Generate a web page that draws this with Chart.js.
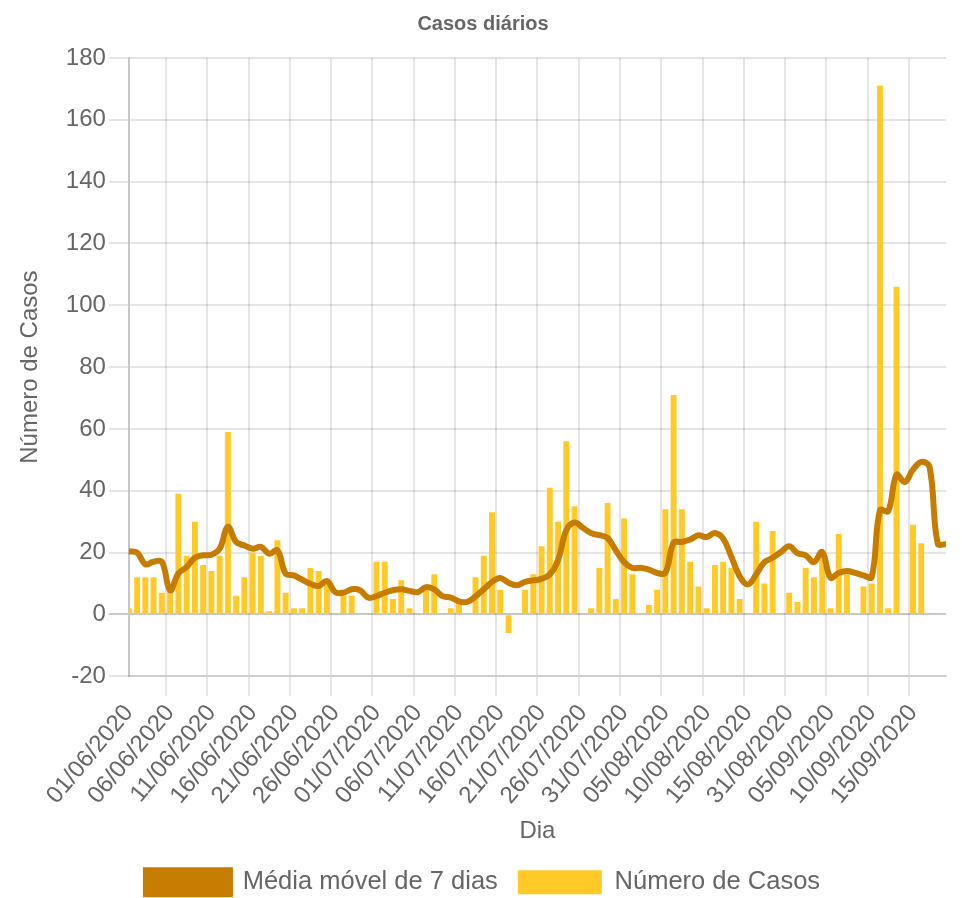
<!DOCTYPE html>
<html>
<head>
<meta charset="utf-8">
<title>Casos diários</title>
<script src="https://cdn.jsdelivr.net/npm/chart.js@4.4.0/dist/chart.umd.min.js"></script>
<style>
html, body { margin: 0; padding: 0; background: #fff; }
#wrap { width: 962px; height: 898px; }
</style>
</head>
<body>
<div id="wrap"><canvas id="casosChart"></canvas></div>
<script>
//Days on the x axis (one label per day, data jumps from mid August to 31/08)
var dias = [
    '01/06/2020','02/06/2020','03/06/2020','04/06/2020','05/06/2020','06/06/2020','07/06/2020','08/06/2020','09/06/2020','10/06/2020',
    '11/06/2020','12/06/2020','13/06/2020','14/06/2020','15/06/2020','16/06/2020','17/06/2020','18/06/2020','19/06/2020','20/06/2020',
    '21/06/2020','22/06/2020','23/06/2020','24/06/2020','25/06/2020','26/06/2020','27/06/2020','28/06/2020','29/06/2020','30/06/2020',
    '01/07/2020','02/07/2020','03/07/2020','04/07/2020','05/07/2020','06/07/2020','07/07/2020','08/07/2020','09/07/2020','10/07/2020',
    '11/07/2020','12/07/2020','13/07/2020','14/07/2020','15/07/2020','16/07/2020','17/07/2020','18/07/2020','19/07/2020','20/07/2020',
    '21/07/2020','22/07/2020','23/07/2020','24/07/2020','25/07/2020','26/07/2020','27/07/2020','28/07/2020','29/07/2020','30/07/2020',
    '31/07/2020','01/08/2020','02/08/2020','03/08/2020','04/08/2020','05/08/2020','06/08/2020','07/08/2020','08/08/2020','09/08/2020',
    '10/08/2020','11/08/2020','12/08/2020','13/08/2020','14/08/2020','15/08/2020','16/08/2020','17/08/2020','18/08/2020','19/08/2020',
    '31/08/2020','01/09/2020','02/09/2020','03/09/2020','04/09/2020','05/09/2020','06/09/2020','07/09/2020','08/09/2020','09/09/2020',
    '10/09/2020','11/09/2020','12/09/2020','13/09/2020','14/09/2020','15/09/2020','16/09/2020','17/09/2020','18/09/2020','19/09/2020'
];

//Daily new cases (bars)
var casos = [
    2, 12, 12, 12, 7, 8, 39, 19, 30, 16,
    14, 19, 59, 6, 12, 20, 19, 1, 24, 7,
    2, 2, 15, 14, 10, 0, 6, 6, 0, 0,
    17, 17, 5, 11, 2, 0, 8, 13, 0, 2,
    4, 0, 12, 19, 33, 8, -6, 0, 8, 13,
    22, 41, 30, 56, 35, 0, 2, 15, 36, 5,
    31, 13, 0, 3, 8, 34, 71, 34, 17, 9,
    2, 16, 17, 15, 5, 0, 30, 10, 27, 0,
    7, 4, 15, 12, 20, 2, 26, 13, 0, 9,
    10, 171, 2, 106, 0, 29, 23, 0, 0, 0
];

//7 day moving average (line)
var mediaMovel = [
    20.4, 20, 16.2, 17, 17, 7.8, 13.2, 15.3, 18.3, 19.1,
    19.3, 21.2, 28.3, 23.4, 22.3, 21.2, 21.8, 19.6, 20.7, 13.2,
    12.6, 11.2, 9.9, 9.2, 10.8, 7.2, 7, 8.1, 7.8, 5.4,
    5.9, 7, 7.8, 8.1, 7.6, 7.2, 8.8, 8.1, 5.9, 5.4,
    4.2, 4, 5.8, 8.1, 10.5, 11.8, 10.2, 9.4, 10.5, 11,
    11.5, 12.9, 17.5, 27.2, 29.7, 28, 26.3, 25.6, 24.7, 20.7,
    16.9, 15, 15.1, 14.5, 13.4, 13.4, 23.2, 23.4, 24.2, 25.6,
    25, 26.3, 24.5, 18.6, 12.3, 9.7, 12.9, 16.9, 18.3, 20.2,
    22, 19.8, 19.1, 16.9, 20.2, 11.9, 13.4, 14, 13.4, 12.6,
    12.1, 33.7, 33.4, 45.2, 42.8, 46.8, 49.3, 47.7, 22.9, 22.7
];

//Y axis range
var yMin = -20;
var yMax = 180;
var yStep = 20;

var corLinha = '#c67c00';
var corBarra = '#ffca28';
var corTexto = '#666';

Chart.defaults.font.family = "'Liberation Sans', Arial, sans-serif";
Chart.defaults.color = corTexto;

var ctx = document.getElementById('casosChart').getContext('2d');

//grid lines: darker at zero, x only every 5 days
function corGradeX(c) {
    if (c.index === 0) return 'rgba(0,0,0,0.22)';
    return c.index % 5 === 0 ? 'rgba(0,0,0,0.1)' : 'rgba(0,0,0,0)';
}
function corGradeY(c) {
    return (c.tick && c.tick.value === 0) ? 'rgba(0,0,0,0.22)' : 'rgba(0,0,0,0.1)';
}

var grafico = new Chart(ctx, {
    type: 'line',
    data: {
        labels: dias,
        datasets: [{
            type: 'line',
            label: 'Média móvel de 7 dias',
            data: mediaMovel,
            borderColor: corLinha,
            backgroundColor: corLinha,
            borderWidth: 6,
            tension: 0.4,
            pointRadius: 0,
            fill: false
        }, {
            type: 'bar',
            label: 'Número de Casos',
            data: casos,
            backgroundColor: corBarra,
            borderColor: corBarra,
            borderWidth: 0
        }]
    },
    options: {
        animation: false,
        responsive: true,
        maintainAspectRatio: false,
        layout: {
            //legend sits right at the bottom edge in the original
            padding: { left: 20, right: 16, top: 0, bottom: -7 }
        },
        plugins: {
            title: {
                display: true,
                text: 'Casos diários',
                color: corTexto,
                font: { size: 20, weight: 'bold' },
                padding: { top: 12, bottom: 22 }
            },
            legend: {
                position: 'bottom',
                labels: {
                    boxWidth: 84,
                    boxHeight: 24,
                    padding: 20,
                    color: corTexto,
                    font: { size: 25.5 }
                }
            },
            tooltip: { enabled: false }
        },
        scales: {
            x: {
                offset: false,
                //the last (empty) label should not push the plot in from the right
                afterFit: function (scale) {
                    scale.paddingRight = 0;
                },
                grid: { color: corGradeX, lineWidth: 2, tickLength: 20 },
                border: { color: 'rgba(0,0,0,0.1)', width: 2 },
                ticks: {
                    autoSkip: false,
                    minRotation: 50,
                    maxRotation: 50,
                    font: { size: 24 },
                    callback: function (val, index) {
                        return index % 5 === 0 ? this.getLabelForValue(val) : '';
                    }
                },
                title: {
                    display: true,
                    text: 'Dia',
                    font: { size: 24 },
                    padding: { top: 4, bottom: 4 }
                }
            },
            y: {
                min: yMin,
                max: yMax,
                grid: { color: corGradeY, lineWidth: 2, tickLength: 20 },
                border: { color: 'rgba(0,0,0,0.22)', width: 2 },
                ticks: { stepSize: yStep, font: { size: 24 }, padding: 3 },
                title: {
                    display: true,
                    text: 'Número de Casos',
                    font: { size: 24 },
                    padding: { top: -4, bottom: 18 }
                }
            }
        }
    }
});
</script>
</body>
</html>
